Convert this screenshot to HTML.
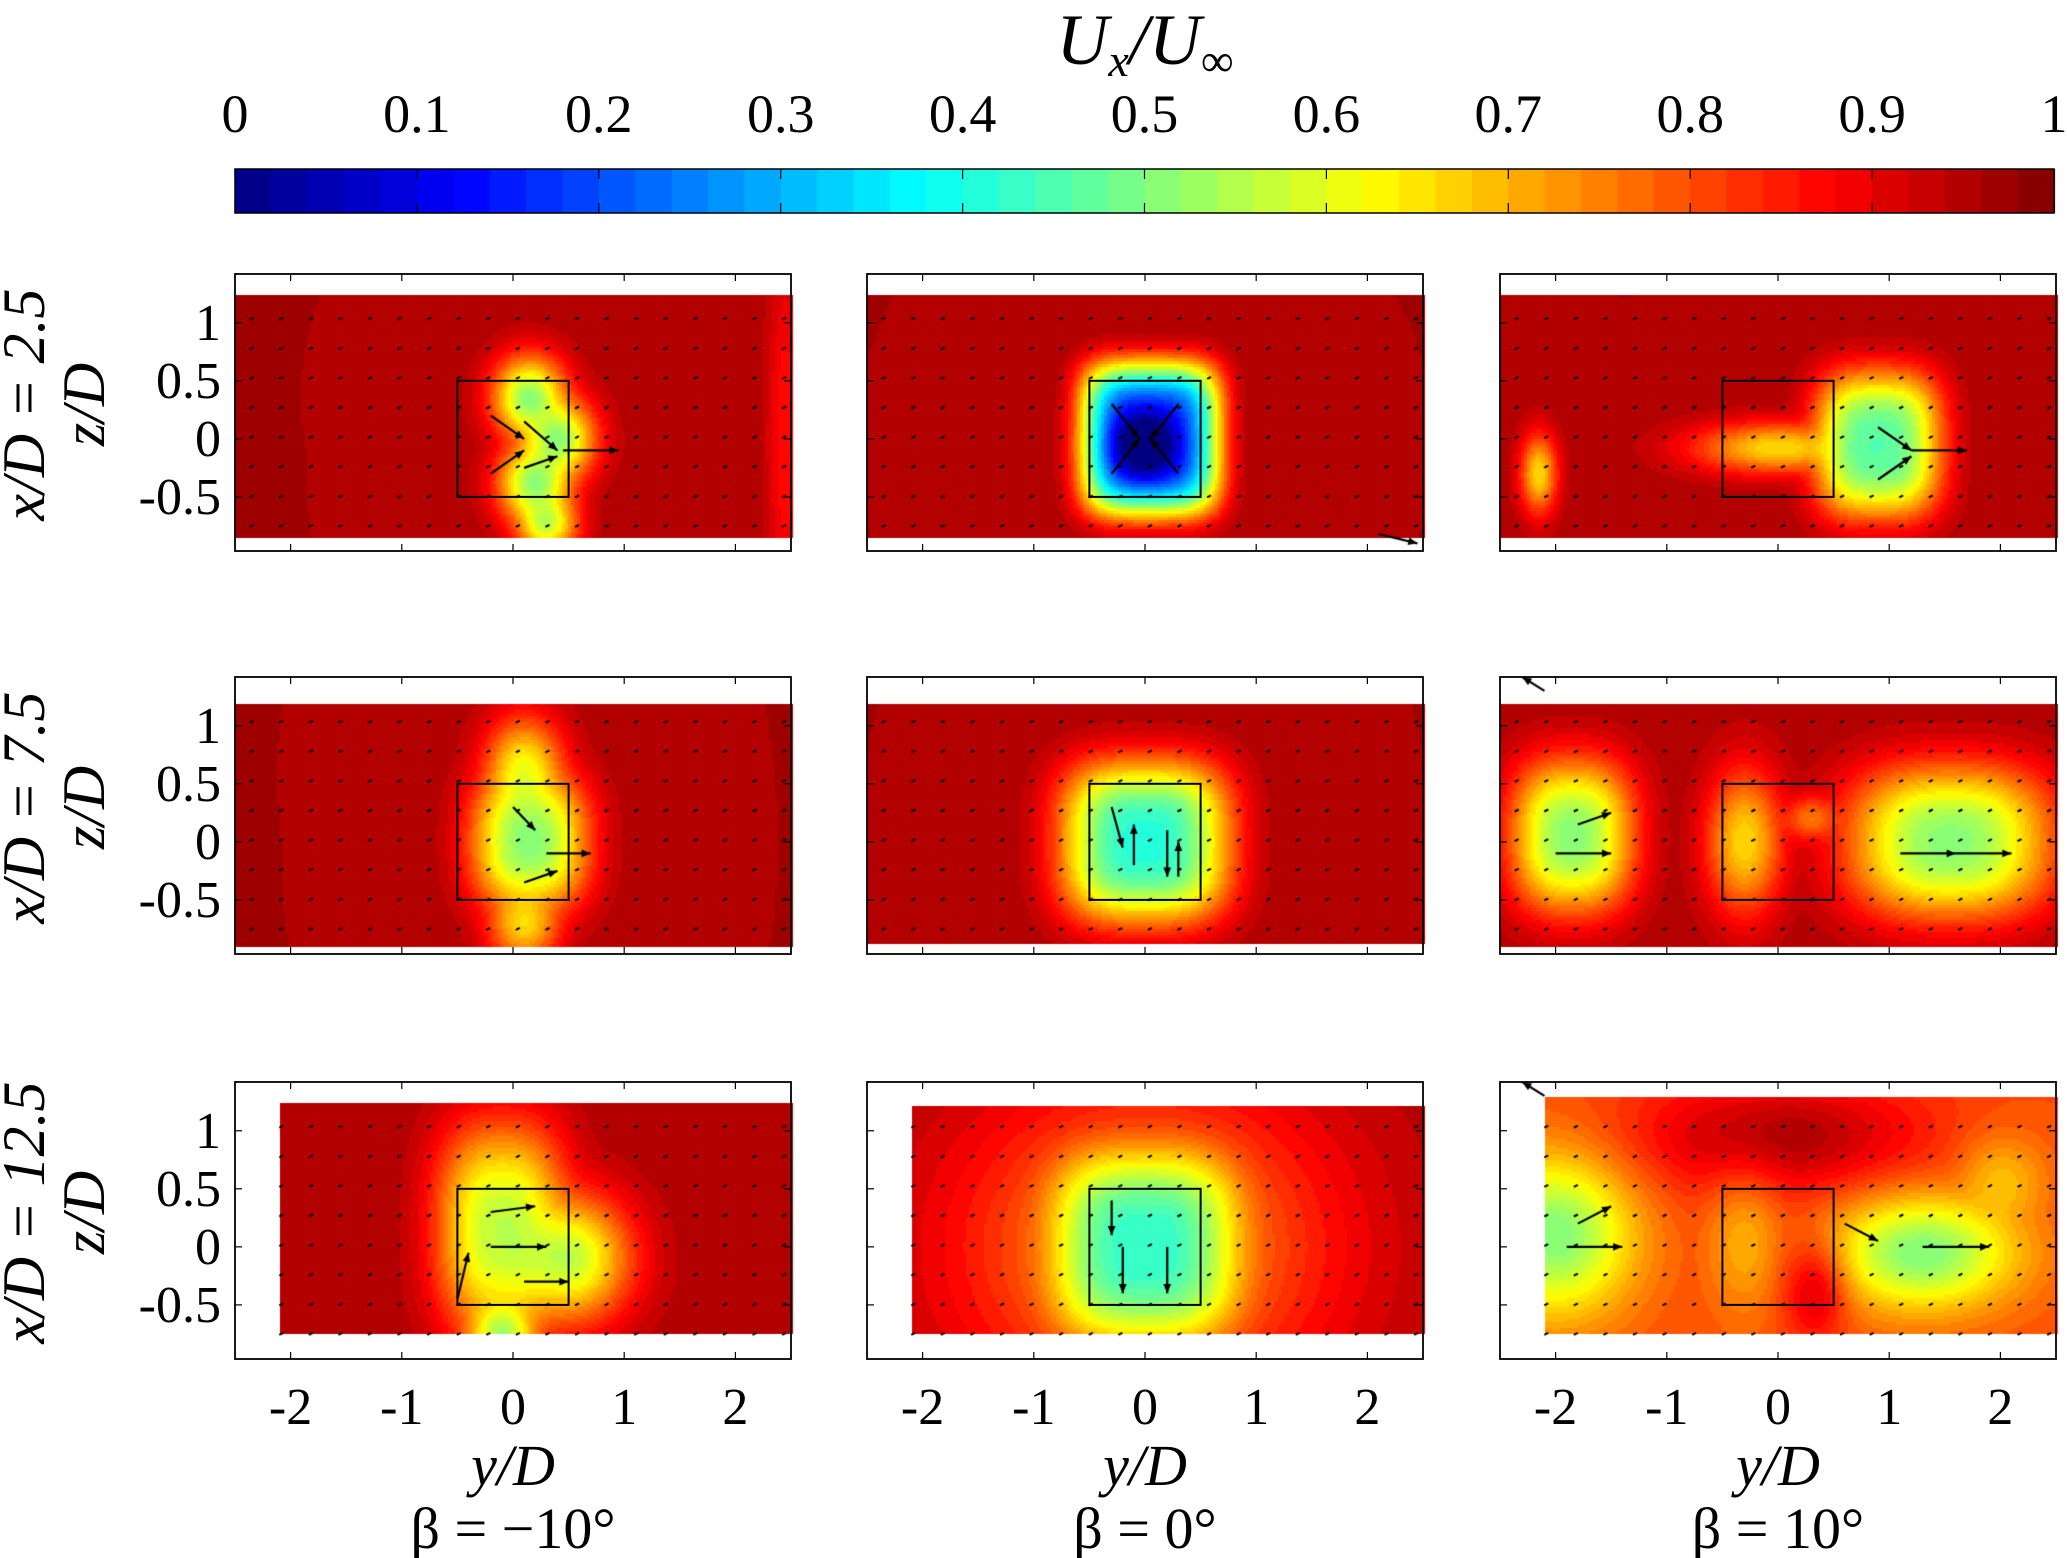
<!DOCTYPE html>
<html><head><meta charset="utf-8"><style>
html,body{margin:0;padding:0;background:#fff;width:2067px;height:1558px;overflow:hidden}
#wrap{position:relative;width:2067px;height:1558px}
canvas{position:absolute;left:0;top:0}
svg{position:absolute;left:0;top:0}
text{font-family:"Liberation Serif",serif;fill:#000}
</style></head><body>
<div id="wrap">
<canvas id="cv" width="2067" height="1558"></canvas>
<svg id="sv" width="2067" height="1558"></svg>
</div>
<script>
// ---- data ----
const colorbarTicks=[0,0.1,0.2,0.3,0.4,0.5,0.6,0.7,0.8,0.9,1];
const colorbarLabels=["0","0.1","0.2","0.3","0.4","0.5","0.6","0.7","0.8","0.9","1"];
const xTicks=[-2,-1,0,1,2];
const xTickLabels=["-2","-1","0","1","2"];
const zTicks=[1,0.5,0,-0.5];
const zTickLabels=["1","0.5","0","-0.5"];
const rowLabels=["x/D = 2.5","x/D = 7.5","x/D = 12.5"];
const colLabels=["β = −10°","β = 0°","β = 10°"];
// per panel (row-major): base value, mask left/top/bottom
const panelBase=[0.96,0.96,0.96, 0.96,0.96,0.96, 0.96,0.96,0.80];
const maskLeft=[-2.5,-2.5,-2.5, -2.5,-2.5,-2.5, -2.1,-2.1,-2.1];
const maskTop=[1.23,1.23,1.23, 1.2,1.2,1.2, 1.25,1.22,1.3];
const maskBottom=[-0.85,-0.85,-0.86, -0.9,-0.88,-0.9, -0.76,-0.76,-0.76];
// blobs: [panel, y, z, sigmaY, sigmaZ, power, depth]
const blobs=[
 [0,0.15,0.35,0.24,0.26,2,0.45],[0,0.4,0.0,0.24,0.26,2,0.45],[0,0.2,-0.38,0.24,0.26,2,0.45],[0,0.3,-0.72,0.2,0.2,2,0.4],[0,2.45,0,0.12,1.2,2,0.1],
 [1,0.05,0,0.52,0.55,4,0.8],[1,0,-0.05,0.3,0.3,2,0.92],
 [2,0.9,-0.05,0.45,0.5,3,0.5],[2,0,-0.08,0.55,0.16,2,0.3],[2,-2.15,-0.3,0.12,0.25,2,0.3],
 [3,0.15,0.0,0.4,0.45,2.5,0.45],[3,0.1,0.6,0.26,0.34,2,0.35],[3,0.1,-0.7,0.24,0.26,2,0.3],
 [4,0,0,0.6,0.55,3,0.55],
 [5,-1.85,0.05,0.42,0.5,2.5,0.45],[5,1.55,0,0.7,0.5,2.5,0.45],[5,-0.3,0,0.25,0.45,2,0.3],[5,0.3,0.2,0.2,0.15,2,0.2],
 [6,-0.1,0.15,0.45,0.7,2.5,0.4],[6,0.5,-0.1,0.4,0.4,2,0.4],[6,-0.1,-0.75,0.24,0.24,2,0.42],
 [7,0,0,0.72,0.7,3,0.52],[7,0,0,1.2,1.0,2,0.25],
 [8,-2,0.1,0.5,0.5,2,0.3],[8,1.3,-0.05,0.6,0.35,2,0.3],[8,0,0.95,0.9,0.35,2,-0.16],[8,0.35,-0.35,0.2,0.3,2,-0.15],[8,2,0.55,0.3,0.3,2,0.12],[8,-0.3,0.1,0.25,0.5,2,0.1]
];
// notable arrows: [panel, y, z, u, v]
const arrows=[
 [0,0.45,-0.1,0.5,0],[0,-0.2,0.2,0.3,-0.2],[0,-0.2,-0.3,0.3,0.2],[0,0.1,-0.25,0.3,0.1],[0,0.1,0.15,0.3,-0.25],
 [1,-0.3,0.3,0.25,-0.3],[1,0.3,0.3,-0.25,-0.3],[1,-0.3,-0.3,0.25,0.3],[1,0.3,-0.3,-0.25,0.3],[1,2.1,-0.82,0.35,-0.08],
 [2,1.2,-0.1,0.5,0],[2,0.9,0.1,0.3,-0.2],[2,0.9,-0.35,0.3,0.2],
 [3,0.3,-0.1,0.4,0],[3,0.1,-0.35,0.3,0.1],[3,0,0.3,0.2,-0.2],
 [4,-0.3,0.3,0.1,-0.35],[4,0.2,0.1,0,-0.4],[4,-0.1,-0.2,0,0.35],[4,0.3,-0.3,0,0.3],
 [5,-2,-0.1,0.5,0],[5,1.1,-0.1,0.5,0],[5,1.6,-0.1,0.5,0],[5,-1.8,0.15,0.3,0.1],[5,-2.1,1.3,-0.2,0.12],
 [6,-0.2,0.3,0.4,0.05],[6,-0.2,0,0.5,0],[6,0.1,-0.3,0.4,0],[6,-0.5,-0.45,0.1,0.4],
 [7,-0.2,0,0,-0.4],[7,0.2,0,0,-0.4],[7,-0.3,0.4,0,-0.3],
 [8,-1.9,0,0.5,0],[8,-1.8,0.2,0.3,0.15],[8,1.3,0,0.6,0],[8,0.6,0.2,0.3,-0.15],[8,-2.1,1.3,-0.2,0.12]
];
// ---- geometry ----
const colX=[235,867,1500], rowY=[274,677,1082], PW=556, PH=277;
const yMin=-2.5,yMax=2.5,zMin=-0.966,zMax=1.42;
const cbX0=235,cbX1=2054,cbY0=169,cbY1=213;
function sx(p,y){return colX[p%3]+(y-yMin)/(yMax-yMin)*PW;}
function sz(p,z){return rowY[Math.floor(p/3)]+(zMax-z)/(zMax-zMin)*PH;}
function jet(v){v=Math.max(0,Math.min(1,v));const c=t=>Math.round(255*Math.max(0,Math.min(1,1.5-Math.abs(4*v-t))));return [c(3),c(2),c(1)];}
function q(v){return Math.min(0.999,Math.floor(v*50)/50+0.01);}
const cv=document.getElementById('cv'),ctx=cv.getContext('2d');
const SV='http://www.w3.org/2000/svg',svg=document.getElementById('sv');
function el(tag,attrs,parent){const e=document.createElementNS(SV,tag);for(const k in attrs)e.setAttribute(k,attrs[k]);(parent||svg).appendChild(e);return e;}
// colorbar
for(let i=0;i<50;i++){const c=jet(i/50+0.01);ctx.fillStyle=`rgb(${c})`;const x0=cbX0+i*(cbX1-cbX0)/50;ctx.fillRect(x0,cbY0,(cbX1-cbX0)/50+1,cbY1-cbY0);}
const cbg=el('g',{});


el('rect',{x:cbX0,y:cbY0,width:cbX1-cbX0,height:cbY1-cbY0,fill:'none',stroke:'#000','stroke-width':1.5},cbg);
colorbarTicks.forEach((t,i)=>{const x=cbX0+t*(cbX1-cbX0);
 el('line',{x1:x,y1:cbY0,x2:x,y2:cbY0+10,stroke:'#000','stroke-width':1.2},cbg);
 el('line',{x1:x,y1:cbY1,x2:x,y2:cbY1-10,stroke:'#000','stroke-width':1.2},cbg);
 const tx=el('text',{x:x,y:132,'font-size':54,'text-anchor':'middle'},cbg);tx.textContent=colorbarLabels[i];
 
 });
const ttl=el('text',{x:1145,y:64,'font-size':72,'text-anchor':'middle','font-style':'italic'});


ttl.innerHTML='U<tspan font-size="46" dy="12">x</tspan><tspan dy="-12">/U</tspan><tspan font-size="46" dy="12" font-style="normal">∞</tspan>';
// panels
for(let p=0;p<9;p++){
 const r=Math.floor(p/3),c=p%3,X=colX[c],Y=rowY[r];
 const pb=blobs.filter(b=>b[0]===p);
 const step=3;
 for(let py=0;py<PH;py+=step)for(let px=0;px<PW;px+=step){
  const y=yMin+(px+step/2)/PW*(yMax-yMin),z=zMax-(py+step/2)/PH*(zMax-zMin);
  if(y<maskLeft[p]||z>maskTop[p]||z<maskBottom[p])continue;
  let s=0,neg=0;
  pb.forEach(b=>{const g=Math.exp(-(Math.pow(Math.abs((y-b[1])/b[3]),b[5])+Math.pow(Math.abs((z-b[2])/b[4]),b[5]))/2);
   if(b[6]>0)s+=Math.pow(b[6]*g,3);else neg+=b[6]*g;});
  const v=panelBase[p]-Math.pow(s,1/3)-neg;
  const col=jet(q(v));ctx.fillStyle=`rgb(${col})`;ctx.fillRect(X+px,Y+py,step,step);
 }
 ctx.save();ctx.beginPath();ctx.rect(X,Y,PW,PH);ctx.clip();
 ctx.strokeStyle='#000';ctx.fillStyle='#000';ctx.lineWidth=2;
 for(let gz=-0.75;gz<=1.1;gz+=0.255)for(let gy=-2.35;gy<=2.45;gy+=0.266){
  if(gy<maskLeft[p]||gz>maskTop[p]||gz<maskBottom[p])continue;
  const x=sx(p,gy),yy=sz(p,gz);ctx.beginPath();ctx.moveTo(x-2,yy+1);ctx.lineTo(x+2,yy-1);ctx.stroke();
 }
 arrows.filter(a=>a[0]===p).forEach(a=>{
  const x0=sx(p,a[1]),y0=sz(p,a[2]),x1=sx(p,a[1]+a[3]),y1=sz(p,a[2]+a[4]);
  ctx.lineWidth=2.2;ctx.beginPath();ctx.moveTo(x0,y0);ctx.lineTo(x1,y1);ctx.stroke();
  const ang=Math.atan2(y1-y0,x1-x0);ctx.beginPath();ctx.moveTo(x1,y1);
  ctx.lineTo(x1-10*Math.cos(ang-0.4),y1-10*Math.sin(ang-0.4));ctx.lineTo(x1-10*Math.cos(ang+0.4),y1-10*Math.sin(ang+0.4));ctx.closePath();ctx.fill();
 });
 ctx.restore();
 const g=el('g',{});
 
 
 const body=el('rect',{x:sx(p,-0.5),y:sz(p,0.5),width:sx(p,0.5)-sx(p,-0.5),height:sz(p,-0.5)-sz(p,0.5),fill:'none',stroke:'#000','stroke-width':2},g);
 
 
 el('rect',{x:X,y:Y,width:PW,height:PH,fill:'none',stroke:'#000','stroke-width':1.8},g);
 xTicks.forEach((t,i)=>{const x=sx(p,t);
  el('line',{x1:x,y1:Y,x2:x,y2:Y+7,stroke:'#000','stroke-width':1.2},g);
  el('line',{x1:x,y1:Y+PH,x2:x,y2:Y+PH-7,stroke:'#000','stroke-width':1.2},g);
  if(r===2){const tx=el('text',{x:x,y:1424,'font-size':52,'text-anchor':'middle'},g);tx.textContent=xTickLabels[i];
   
   }
 });
 zTicks.forEach((t,i)=>{const yy=sz(p,t);
  el('line',{x1:X,y1:yy,x2:X+7,y2:yy,stroke:'#000','stroke-width':1.2},g);
  el('line',{x1:X+PW,y1:yy,x2:X+PW-7,y2:yy,stroke:'#000','stroke-width':1.2},g);
  if(c===0){const tx=el('text',{x:X-14,y:yy+17,'font-size':52,'text-anchor':'end'},g);tx.textContent=zTickLabels[i];
   
   }
 });
}
rowLabels.forEach((s,r)=>{const cy=rowY[r]+PH/2-8;
 const t=el('text',{x:0,y:0,'font-size':60,'text-anchor':'middle','font-style':'italic',transform:`translate(44,${cy}) rotate(-90)`});t.textContent=s;
 
 
 const t2=el('text',{x:0,y:0,'font-size':60,'text-anchor':'middle','font-style':'italic',transform:`translate(104,${cy}) rotate(-90)`});t2.textContent='z/D';
 
 
});
colLabels.forEach((s,c)=>{const cx=colX[c]+PW/2;
 const t=el('text',{x:cx,y:1485,'font-size':58,'text-anchor':'middle','font-style':'italic'});t.textContent='y/D';
 
 
 const t2=el('text',{x:cx,y:1548,'font-size':58,'text-anchor':'middle'});t2.textContent=s;
 
 
});
</script>
</body></html>
